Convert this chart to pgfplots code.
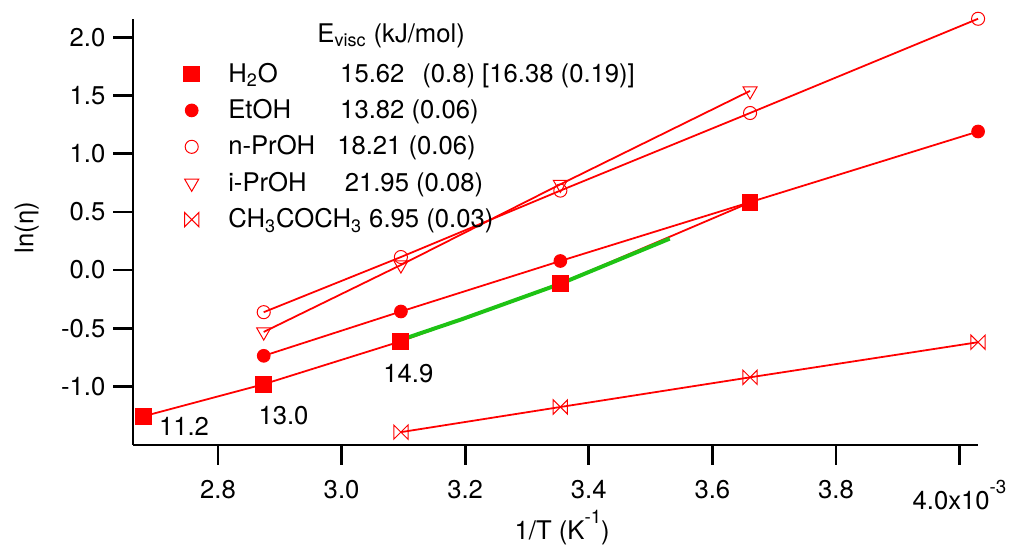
\documentclass[border=0pt]{standalone}
\usepackage{fontspec}
\setmainfont{TeX Gyre Heros}
\usepackage{pgfplots}
\pgfplotsset{compat=1.18}
\usetikzlibrary{calc}
\definecolor{fitgreen}{RGB}{30,195,20}
\pgfdeclareplotmark{bowtie}{%
  \pgfpathmoveto{\pgfqpoint{-\pgfplotmarksize}{-\pgfplotmarksize}}%
  \pgfpathlineto{\pgfqpoint{-\pgfplotmarksize}{\pgfplotmarksize}}%
  \pgfpathlineto{\pgfqpoint{\pgfplotmarksize}{-\pgfplotmarksize}}%
  \pgfpathlineto{\pgfqpoint{\pgfplotmarksize}{\pgfplotmarksize}}%
  \pgfpathclose\pgfusepathqstroke}
\newcommand{\supr}[1]{\raisebox{0.62em}{\fontsize{9.5}{9.5}\selectfont #1}}
\begin{document}
\begin{tikzpicture}[font=\fontsize{13}{15}\selectfont]
\begin{axis}[
  scale only axis, width=426.2bp, height=214.85bp,
  xmin=2.6626, xmax=4.0295, ymin=-1.503, ymax=2.157,
  axis x line*=bottom, axis y line*=left,
  axis line style={line width=1.35bp, black},
  tick align=outside, major tick length=10bp,
  tick style={line width=1.35bp, black},
  xtick={2.8,3.0,3.2,3.4,3.6,3.8,4.0},
  xticklabels={2.8,3.0,3.2,3.4,3.6,3.8,{4.0x10\supr{-3}}},
  ytick={-1,-0.5,0,0.5,1,1.5,2},
  yticklabels={-1.0,-0.5,0.0,0.5,1.0,1.5,2.0},
  xticklabel style={anchor=north, yshift=-4.5bp},
  yticklabel style={anchor=east, xshift=-0.5bp},
  xlabel={1/T (K\supr{-1})},
  xlabel style={at={(axis description cs:0.508,-0.221)}, anchor=base},
  ylabel={ln(η)},
  ylabel style={at={(axis description cs:-0.126,0.51)}, anchor=center, rotate=0},
  clip=false,
  legend image code/.code={\path (-6bp,0bp) (16.5bp,0bp); \draw[#1,only marks] plot coordinates {(0bp,0bp)};},
  legend cell align=left,
  legend style={at={(axis description cs:0.0538,0.905)}, anchor=north west,
    draw=none, fill=none, inner sep=0pt, row sep=4.2bp,
    nodes={inner sep=1.5bp}},
]
% H2O
\addplot[red, line width=0.9bp, mark=square*, mark size=4bp, mark options={solid, line width=0.5bp}]
  coordinates {(2.680,-1.256) (2.874,-0.981) (3.096,-0.612) (3.354,-0.115) (3.661,0.581)};
\addlegendentry{\makebox[56.5bp][l]{H\textsubscript{2}O}15.62\hspace{9bp}(0.8) [16.38 (0.19)]}
% EtOH
\addplot[red, line width=0.9bp, mark=*, mark size=3.2bp, mark options={solid, line width=0.5bp}]
  coordinates {(2.874,-0.737) (3.096,-0.356) (3.354,0.078) (4.030,1.191)};
\addlegendentry{\makebox[56.5bp][l]{EtOH}13.82 (0.06)}
% n-PrOH
\addplot[red, line width=0.9bp, mark=o, mark size=3.3bp, mark options={solid, line width=0.5bp}]
  coordinates {(2.874,-0.362) (3.096,0.112) (3.354,0.683) (3.661,1.350) (4.030,2.16)};
\addlegendentry{\makebox[55bp][l]{n-PrOH}18.21 (0.06)}
% i-PrOH
\addplot[red, line width=0.9bp, mark=triangle, mark size=4.1bp, mark options={solid, line width=0.5bp, rotate=180}]
  coordinates {(2.874,-0.532) (3.096,0.044) (3.354,0.737) (3.661,1.54)};
\addlegendentry{\makebox[58.8bp][l]{i-PrOH}21.95 (0.08)}
% acetone
\addplot[red, line width=0.9bp, mark=bowtie, mark size=3.6bp, mark options={solid, line width=0.5bp}]
  coordinates {(3.096,-1.393) (3.354,-1.177) (3.661,-0.922) (4.030,-0.62)};
\addlegendentry{CH\textsubscript{3}COCH\textsubscript{3} 6.95 (0.03)}
% green segment
\addplot[fitgreen, line width=2bp, forget plot]
  coordinates {(3.096,-0.60) (3.196,-0.42) (3.353,-0.12) (3.531,0.27)};
\node at (axis cs:2.745,-1.345) {11.2};
\node at (axis cs:2.906,-1.248) {13.0};
\node at (axis cs:3.108,-0.888) {14.9};
\node[anchor=west] at (axis description cs:0.21,0.961) {E\textsubscript{visc} (kJ/mol)};
\end{axis}
\useasboundingbox ($(current axis.south west)+(-67.15bp,-45bp)$) rectangle ($(current axis.north east)+(13.15bp,9.65bp)$);
\end{tikzpicture}
\end{document}
